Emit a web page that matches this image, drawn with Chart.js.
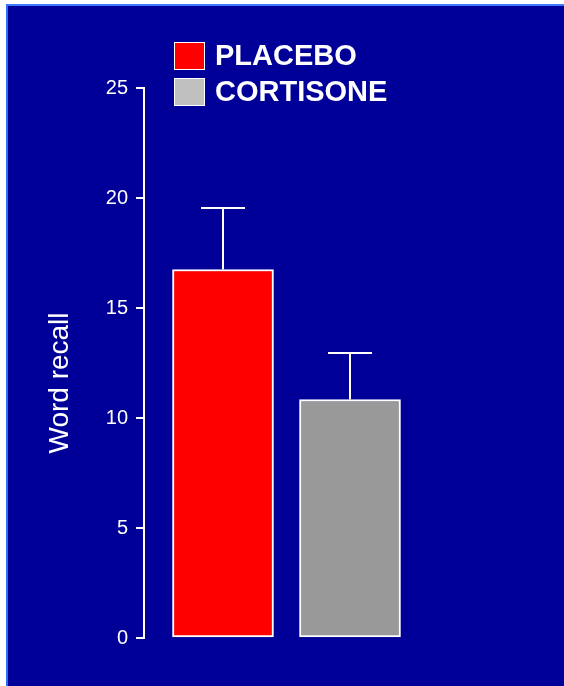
<!DOCTYPE html>
<html>
<head>
<meta charset="utf-8">
<script src="https://cdn.jsdelivr.net/npm/chart.js@4.4.0/dist/chart.umd.min.js"></script>
<style>
  body { margin: 0; background: #fff; width: 564px; height: 686px; overflow: hidden; position: relative; }
  #frame { position: absolute; left: 6px; top: 4px; width: 600px; height: 700px; background: #000099;
           border-top: 2px solid #3d78ff; border-left: 2px solid #2f6cf5; }
  #chart { position: absolute; left: 0; top: 0; }
</style>
</head>
<body>
<div id="frame"></div>
<canvas id="chart" width="564" height="686"></canvas>
<script>
const groups = ['PLACEBO', 'CORTISONE'];
const means = [16.75, 10.84];
const errors = [2.8, 2.12];
const barColors = ['#ff0000', '#999999'];
const legendColors = ['#ff0000', '#c0c0c0'];
const yTicks = [0, 5, 10, 15, 20, 25];
const yTitle = 'Word recall';

const FONT = '"Liberation Sans", Arial, sans-serif';

// error bars on top of each bar
const errorBars = {
  id: 'errorBars',
  afterDatasetsDraw(chart) {
    const ctx = chart.ctx;
    const y = chart.scales.y;
    const meta = chart.getDatasetMeta(0);
    ctx.save();
    ctx.strokeStyle = '#fff';
    ctx.lineWidth = 2;
    meta.data.forEach((bar, i) => {
      const top = y.getPixelForValue(means[i] + errors[i]);
      ctx.beginPath();
      ctx.moveTo(bar.x, bar.y);
      ctx.lineTo(bar.x, top);
      ctx.moveTo(bar.x - 22, top);
      ctx.lineTo(bar.x + 22, top);
      ctx.stroke();
    });
    ctx.restore();
  }
};

// legend boxes and rotated axis title
const decorations = {
  id: 'decorations',
  afterDraw(chart) {
    const ctx = chart.ctx;
    const area = chart.chartArea;
    ctx.save();
    groups.forEach((g, i) => {
      const top = 42 + i * 36;
      ctx.fillStyle = legendColors[i];
      ctx.fillRect(174, top, 30, 27);
      ctx.strokeStyle = '#fff';
      ctx.lineWidth = 1;
      ctx.strokeRect(174.5, top + 0.5, 30, 27);
      ctx.fillStyle = '#fff';
      ctx.font = 'bold 29px ' + FONT;
      ctx.textBaseline = 'alphabetic';
      ctx.fillText(g, 215, top + 23);
    });
    ctx.translate(60, (area.top + area.bottom) / 2 + 20);
    ctx.rotate(-Math.PI / 2);
    ctx.font = '28px ' + FONT;
    ctx.textAlign = 'center';
    ctx.textBaseline = 'middle';
    ctx.fillText(yTitle, 0, 0);
    ctx.restore();
  }
};

new Chart(document.getElementById('chart'), {
  type: 'bar',
  data: {
    datasets: [{
      data: groups.map((g, i) => ({ x: i + 1, y: means[i] })),
      backgroundColor: barColors,
      borderColor: '#fff',
      borderWidth: 2,
      borderSkipped: false,
      barThickness: 101
    }]
  },
  options: {
    responsive: false,
    animation: false,
    layout: { padding: { top: 88, bottom: 48, right: 24, left: 0 } },
    plugins: { legend: { display: false }, tooltip: { enabled: false } },
    scales: {
      x: { type: 'linear', offset: false, min: 0.378, max: 3.496, display: false },
      y: {
        min: 0, max: 25,
        afterFit(scale) { scale.width = 144; },
        afterBuildTicks(scale) { scale.ticks = yTicks.map(v => ({ value: v })); },
        ticks: { color: '#fff', font: { family: FONT, size: 20 }, padding: 8 },
        grid: { drawOnChartArea: false, color: '#fff', lineWidth: 2, tickLength: 8 },
        border: { color: '#fff', width: 2 }
      }
    }
  },
  plugins: [errorBars, decorations]
});
</script>
</body>
</html>
